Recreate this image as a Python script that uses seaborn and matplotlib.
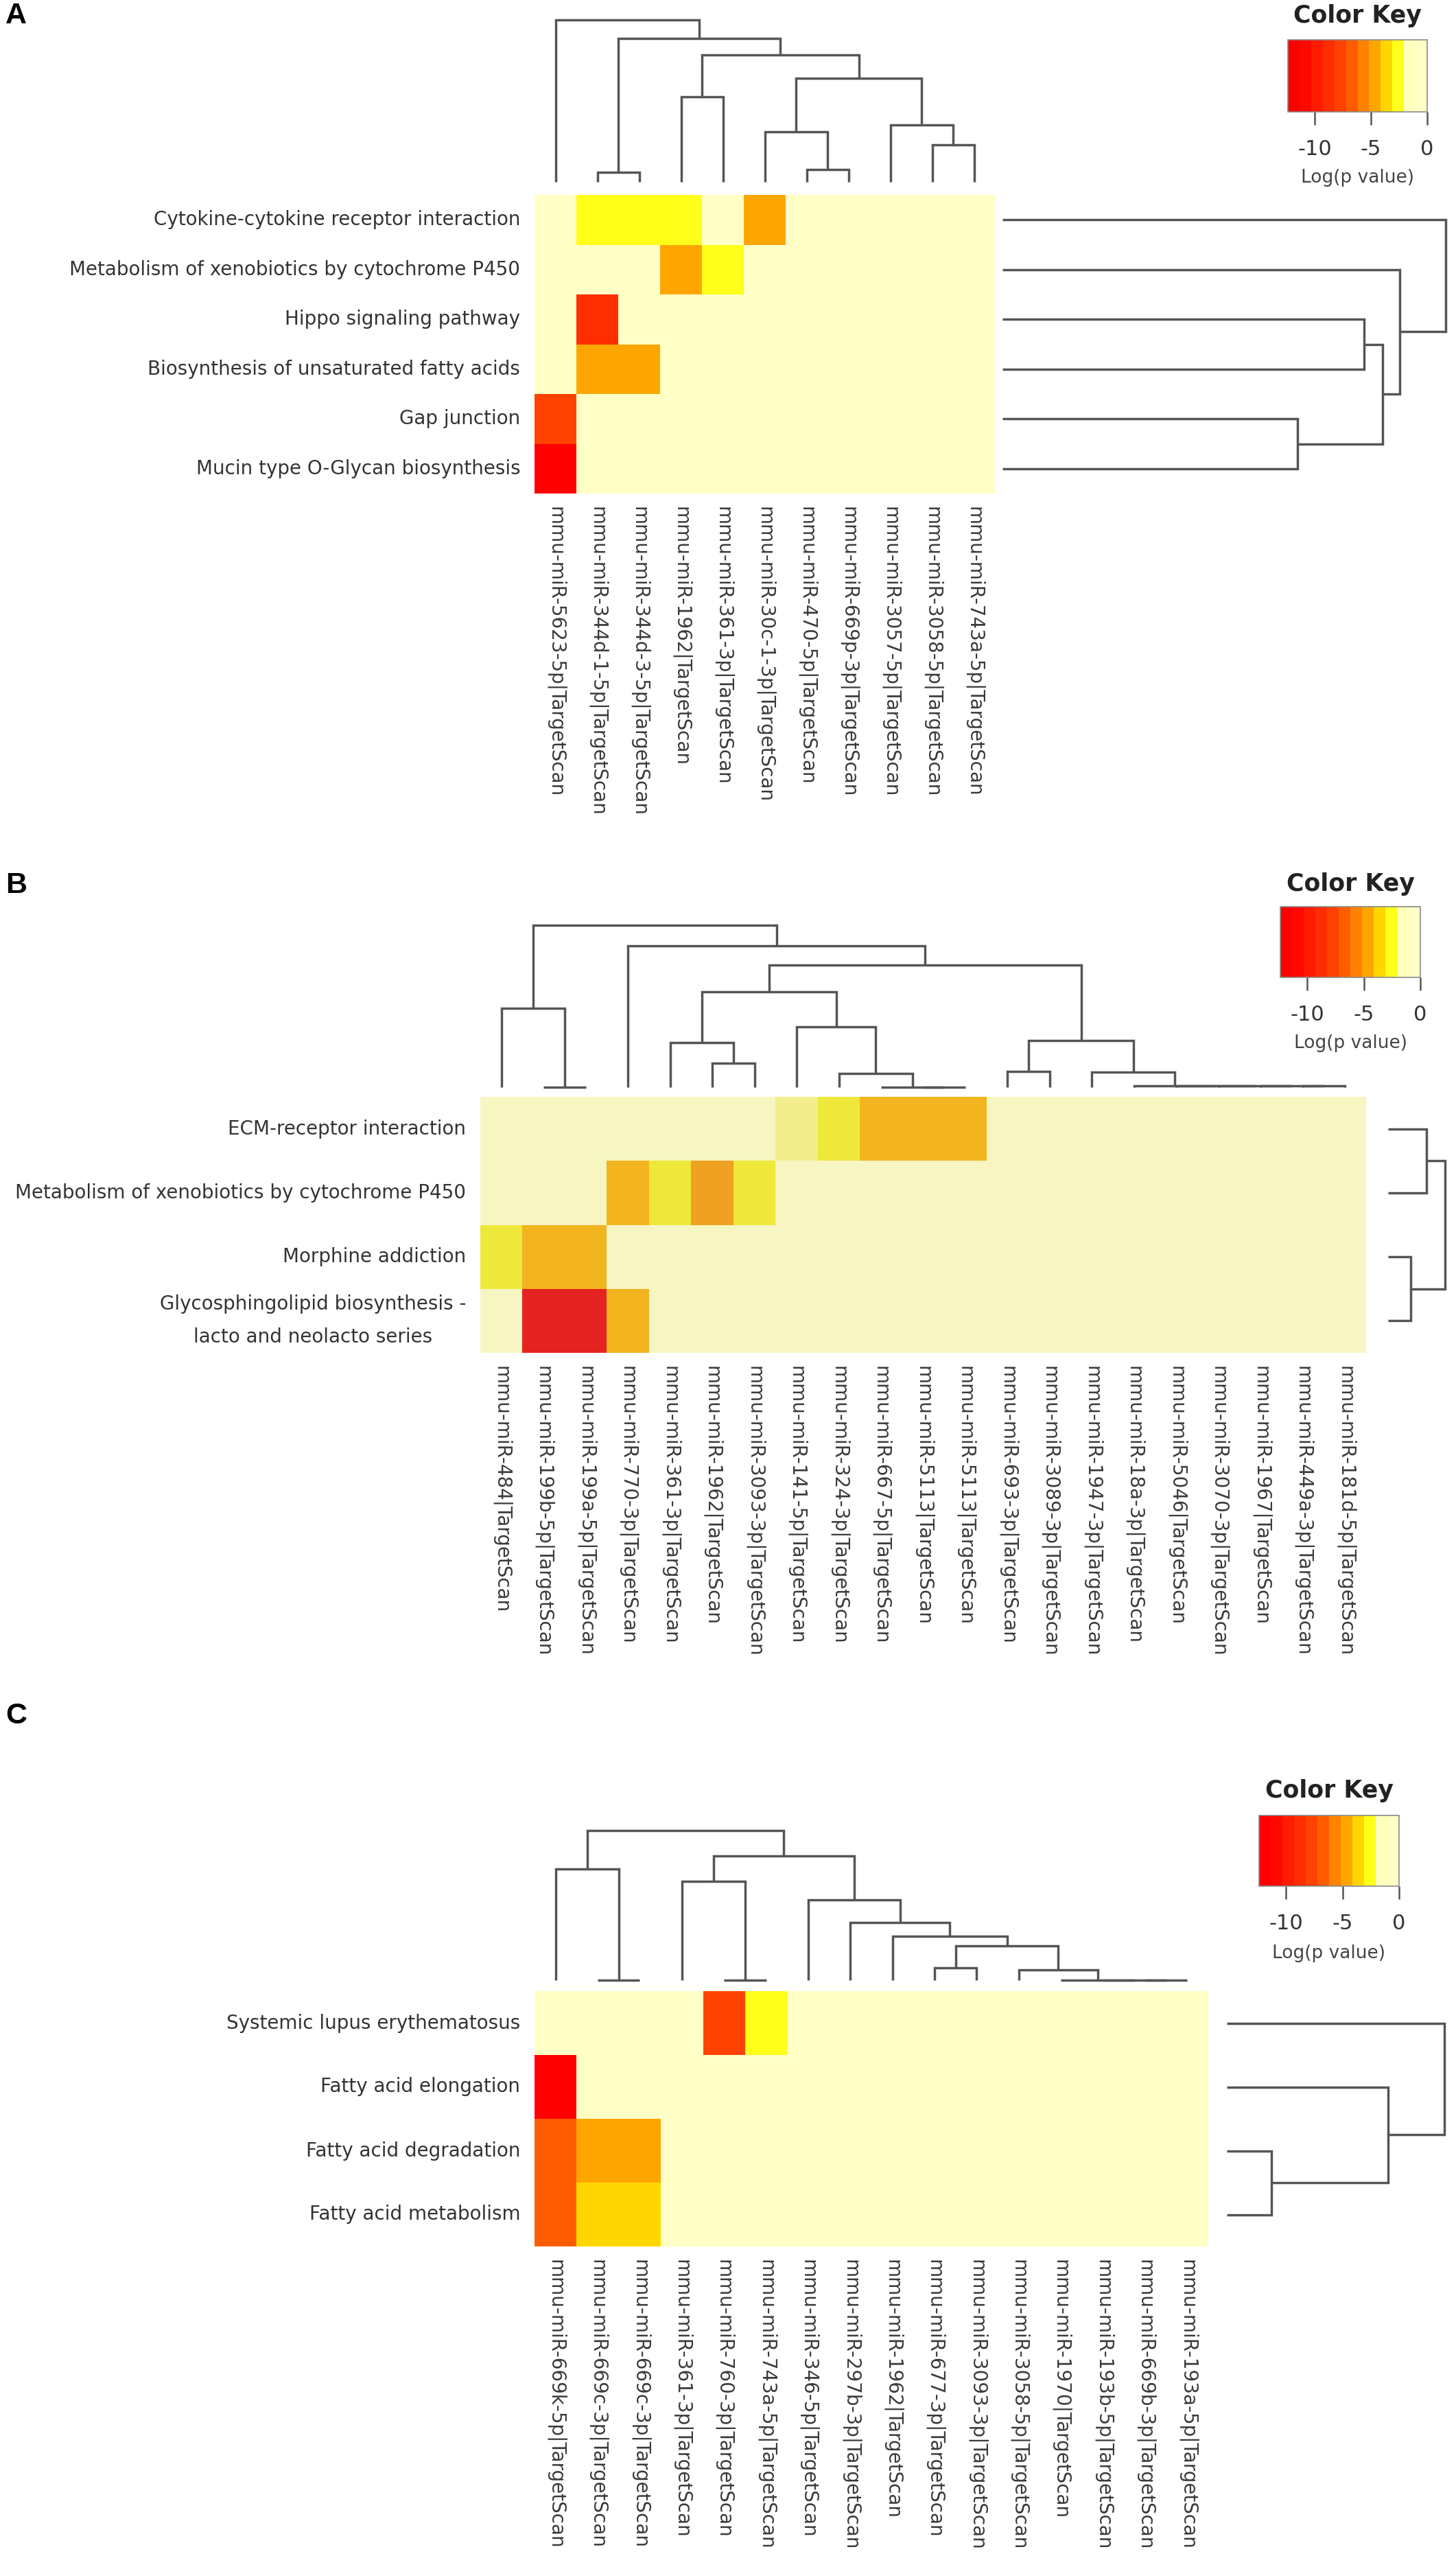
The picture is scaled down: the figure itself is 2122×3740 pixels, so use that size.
import numpy as np
import pandas as pd
import matplotlib
matplotlib.use("Agg")
import matplotlib.pyplot as plt
import seaborn as sns
from matplotlib.colors import ListedColormap, Normalize
from matplotlib.cm import ScalarMappable

# ============================ DATA ============================
# ---- Panel A ----
a_rows = ["Cytokine-cytokine receptor interaction",
          "Metabolism of xenobiotics by cytochrome P450",
          "Hippo signaling pathway",
          "Biosynthesis of unsaturated fatty acids",
          "Gap junction",
          "Mucin type O-Glycan biosynthesis"]
a_cols = ["mmu-miR-5623-5p|TargetScan", "mmu-miR-344d-1-5p|TargetScan",
          "mmu-miR-344d-3-5p|TargetScan", "mmu-miR-1962|TargetScan",
          "mmu-miR-361-3p|TargetScan", "mmu-miR-30c-1-3p|TargetScan",
          "mmu-miR-470-5p|TargetScan", "mmu-miR-669p-3p|TargetScan",
          "mmu-miR-3057-5p|TargetScan", "mmu-miR-3058-5p|TargetScan",
          "mmu-miR-743a-5p|TargetScan"]
a_logp = [
    [0.0, -2.6, -2.6, -3.0, 0.0, -5.0, 0.0, 0.0, 0.0, 0.0, 0.0],
    [0.0, 0.0, 0.0, -5.0, -3.0, 0.0, 0.0, 0.0, 0.0, 0.0, 0.0],
    [0.0, -9.0, 0.0, 0.0, 0.0, 0.0, 0.0, 0.0, 0.0, 0.0, 0.0],
    [0.0, -5.0, -5.0, 0.0, 0.0, 0.0, 0.0, 0.0, 0.0, 0.0, 0.0],
    [-7.5, 0.0, 0.0, 0.0, 0.0, 0.0, 0.0, 0.0, 0.0, 0.0, 0.0],
    [-11.5, 0.0, 0.0, 0.0, 0.0, 0.0, 0.0, 0.0, 0.0, 0.0, 0.0],
]
# linkage rows: (child a, child b, merge height); new nodes numbered n, n+1, ...
a_col_tree = [(1, 2, 14), (3, 4, 124), (6, 7, 18), (5, 13, 73), (9, 10, 54),
              (8, 15, 83), (14, 16, 151), (12, 17, 185), (11, 18, 209.5),
              (0, 19, 236)]
a_row_tree = [(4, 5, 430), (2, 3, 527), (7, 6, 554), (1, 8, 579), (0, 9, 646)]

# ---- Panel B ----
b_rows = ["ECM-receptor interaction",
          "Metabolism of xenobiotics by cytochrome P450",
          "Morphine addiction",
          "Glycosphingolipid biosynthesis -\nlacto and neolacto series"]
b_cols = ["mmu-miR-484|TargetScan", "mmu-miR-199b-5p|TargetScan",
          "mmu-miR-199a-5p|TargetScan", "mmu-miR-770-3p|TargetScan",
          "mmu-miR-361-3p|TargetScan", "mmu-miR-1962|TargetScan",
          "mmu-miR-3093-3p|TargetScan", "mmu-miR-141-5p|TargetScan",
          "mmu-miR-324-3p|TargetScan", "mmu-miR-667-5p|TargetScan",
          "mmu-miR-5113|TargetScan", "mmu-miR-5113|TargetScan",
          "mmu-miR-693-3p|TargetScan", "mmu-miR-3089-3p|TargetScan",
          "mmu-miR-1947-3p|TargetScan", "mmu-miR-18a-3p|TargetScan",
          "mmu-miR-5046|TargetScan", "mmu-miR-3070-3p|TargetScan",
          "mmu-miR-1967|TargetScan", "mmu-miR-449a-3p|TargetScan",
          "mmu-miR-181d-5p|TargetScan"]
b_logp = [
    [0, 0, 0, 0, 0, 0, 0, -1.8, -2.8, -5.0, -5.0, -5.0, 0, 0, 0, 0, 0, 0, 0, 0, 0],
    [0, 0, 0, -5.0, -2.8, -5.8, -2.8, 0, 0, 0, 0, 0, 0, 0, 0, 0, 0, 0, 0, 0, 0],
    [-2.8, -5.0, -5.0, 0, 0, 0, 0, 0, 0, 0, 0, 0, 0, 0, 0, 0, 0, 0, 0, 0, 0],
    [0, -11.0, -11.0, -5.0, 0, 0, 0, 0, 0, 0, 0, 0, 0, 0, 0, 0, 0, 0, 0, 0, 0],
]
b_col_tree = [(1, 2, 0), (0, 21, 115), (5, 6, 35), (4, 23, 65), (10, 11, 0),
              (9, 25, 0), (8, 26, 20), (7, 27, 88), (24, 28, 139), (12, 13, 23),
              (19, 20, 2), (18, 31, 2), (17, 32, 2), (16, 33, 2), (15, 34, 2),
              (14, 35, 22), (30, 36, 68), (29, 37, 178), (3, 38, 206),
              (22, 39, 236)]
b_row_tree = [(0, 1, 56), (2, 3, 32.5), (4, 5, 82.5)]

# ---- Panel C ----
c_rows = ["Systemic lupus erythematosus",
          "Fatty acid elongation",
          "Fatty acid degradation",
          "Fatty acid metabolism"]
c_cols = ["mmu-miR-669k-5p|TargetScan", "mmu-miR-669c-3p|TargetScan",
          "mmu-miR-669c-3p|TargetScan", "mmu-miR-361-3p|TargetScan",
          "mmu-miR-760-3p|TargetScan", "mmu-miR-743a-5p|TargetScan",
          "mmu-miR-346-5p|TargetScan", "mmu-miR-297b-3p|TargetScan",
          "mmu-miR-1962|TargetScan", "mmu-miR-677-3p|TargetScan",
          "mmu-miR-3093-3p|TargetScan", "mmu-miR-3058-5p|TargetScan",
          "mmu-miR-1970|TargetScan", "mmu-miR-193b-5p|TargetScan",
          "mmu-miR-669b-3p|TargetScan", "mmu-miR-193a-5p|TargetScan"]
c_logp = [
    [0, 0, 0, 0, -7.5, -2.8, 0, 0, 0, 0, 0, 0, 0, 0, 0, 0],
    [-11.5, 0, 0, 0, 0, 0, 0, 0, 0, 0, 0, 0, 0, 0, 0, 0],
    [-6.7, -5.0, -5.0, 0, 0, 0, 0, 0, 0, 0, 0, 0, 0, 0, 0, 0],
    [-6.7, -3.8, -3.8, 0, 0, 0, 0, 0, 0, 0, 0, 0, 0, 0, 0, 0],
]
c_col_tree = [(1, 2, 0), (4, 5, 0), (9, 10, 18), (14, 15, 0), (13, 19, 0),
              (12, 20, 0), (11, 21, 15), (18, 22, 50), (8, 23, 64), (7, 24, 84),
              (6, 25, 117), (3, 17, 144), (27, 26, 181), (0, 16, 162),
              (29, 28, 218)]
c_row_tree = [(2, 3, 66), (1, 4, 236), (0, 5, 318)]

# colour key
key_min, key_max = -12.4, 0.0
key_ticks = [-10, -5, 0]
key_colors = ["#FF0000", "#FF0800", "#FF1C00", "#FF2E00", "#FF4200", "#FF5C00",
              "#FF8200", "#FFA500", "#FFD600", "#FFFF1A", "#FFFFBE", "#FFFFC6"]
b_colors = ["#E31C1C", "#E52421", "#E7361F", "#E9491F", "#EB5C1F", "#ED761F",
            "#EFA121", "#F2B41F", "#F0D02C", "#EDE83A", "#F2EE8E", "#F7F5C2"]

# ============================ STYLE ============================
sns.set_theme(style="white")
plt.rcParams["font.family"] = ["DejaVu Sans"]
plt.rcParams["axes.unicode_minus"] = False

W, H = 2122, 3740
fig = plt.figure(figsize=(W / 100, H / 100), dpi=100)
fig.patch.set_facecolor("white")

DCOL = "#555555"
DLW = 2.5


def add_ax(x0, y0, x1, y1):
    return fig.add_axes([x0 / W, 1 - y1 / H, (x1 - x0) / W, (y1 - y0) / H])


def draw_tree(ax, tree, n, orient):
    pos = {i: i + 0.5 for i in range(n)}
    hgt = {i: 0.0 for i in range(n)}
    for k, (a, b, h) in enumerate(tree):
        xa, xb = pos[a], pos[b]
        ha, hb = hgt[a], hgt[b]
        xs = [xa, xa, xb, xb]
        ys = [ha, h, h, hb]
        if orient == "top":
            ax.plot(xs, ys, color=DCOL, lw=DLW, clip_on=False,
                    solid_capstyle="butt", solid_joinstyle="miter")
        else:
            ax.plot(ys, xs, color=DCOL, lw=DLW, clip_on=False,
                    solid_capstyle="butt", solid_joinstyle="miter")
        pos[n + k] = (xa + xb) / 2
        hgt[n + k] = h
    return hgt[n + len(tree) - 1]


def panel(letter, letter_y, rows, cols, vals, col_tree, row_tree, cmap,
          hm, col_base, row_left, row_right, key_box, title_y, label_y):
    x0, y0, x1, y1 = hm
    # heatmap
    ax = add_ax(x0, y0, x1, y1)
    df = pd.DataFrame(np.array(vals, dtype=float))
    sns.heatmap(df, ax=ax, cmap=cmap, vmin=key_min, vmax=key_max, cbar=False,
                xticklabels=cols, yticklabels=rows, linewidths=0)
    ax.tick_params(axis="both", length=0)
    ax.tick_params(axis="y", pad=15)
    ax.tick_params(axis="x", pad=14)
    ax.set_xticklabels(cols, rotation=270, fontsize=20, color="#3a3a3a")
    ax.set_yticklabels(rows, rotation=0, fontsize=20, color="#333333",
                       linespacing=1.9)
    for t in ax.get_yticklabels():
        t.set_multialignment("center")
    ax.set_xlabel("")
    ax.set_ylabel("")

    # column dendrogram
    root = max(t[2] for t in col_tree)
    cax = add_ax(x0, col_base - root, x1, col_base)
    draw_tree(cax, col_tree, len(cols), "top")
    cax.set_xlim(0, len(cols))
    cax.set_ylim(0, root)
    cax.axis("off")

    # row dendrogram
    rroot = max(t[2] for t in row_tree)
    rax = add_ax(row_left, y0, row_right, y1)
    draw_tree(rax, row_tree, len(rows), "right")
    rax.set_xlim(0, rroot)
    rax.set_ylim(len(rows), 0)
    rax.axis("off")

    # colour key
    kx0, ky0, kx1, ky1 = key_box
    kax = add_ax(kx0, ky0, kx1, ky1)
    sm = ScalarMappable(norm=Normalize(key_min, key_max),
                        cmap=ListedColormap(key_colors))
    cb = fig.colorbar(sm, cax=kax, orientation="horizontal", ticks=key_ticks)
    cb.set_ticklabels([f"{t:g}" for t in key_ticks])
    kax.xaxis.set_ticks_position("bottom")
    kax.tick_params(axis="x", length=13.5, width=1.8, color="#555555",
                    labelsize=22, labelcolor="#333333", pad=15,
                    direction="out", bottom=True)
    cb.outline.set_edgecolor("#8a8a8a")
    cb.outline.set_linewidth(1.2)
    cx = (kx0 + kx1) / 2
    fig.text(cx / W, 1 - title_y / H, "Color Key", ha="center", va="center",
             fontsize=25, fontweight="bold", color="#222222")
    fig.text(cx / W, 1 - label_y / H, "Log(p value)", ha="center",
             va="center", fontsize=19, color="#444444")

    # panel letter
    fig.text(8 / W, 1 - letter_y / H, letter, ha="left", va="center",
             fontsize=31, fontweight="bold", color="black",
             family=["Liberation Sans", "DejaVu Sans"])


vivid = ListedColormap(key_colors)
muted = ListedColormap(b_colors)

panel("A", 23, a_rows, a_cols, a_logp, a_col_tree, a_row_tree, vivid,
      hm=(779, 284, 1450, 719), col_base=265, row_left=1461, row_right=2107,
      key_box=(1877, 58, 2080, 163), title_y=23, label_y=259)

panel("B", 1290, b_rows, b_cols, b_logp, b_col_tree, b_row_tree, muted,
      hm=(700, 1598, 1991, 1971), col_base=1584, row_left=2023,
      row_right=2105.5, key_box=(1866, 1321, 2070, 1424), title_y=1288,
      label_y=1520)

panel("C", 2500, c_rows, c_cols, c_logp, c_col_tree, c_row_tree, vivid,
      hm=(779, 2901, 1761, 3273), col_base=2885, row_left=1787.5,
      row_right=2105, key_box=(1835, 2645, 2039, 2748), title_y=2609,
      label_y=2846)

fig.savefig("out.png", dpi=100, facecolor="white")
